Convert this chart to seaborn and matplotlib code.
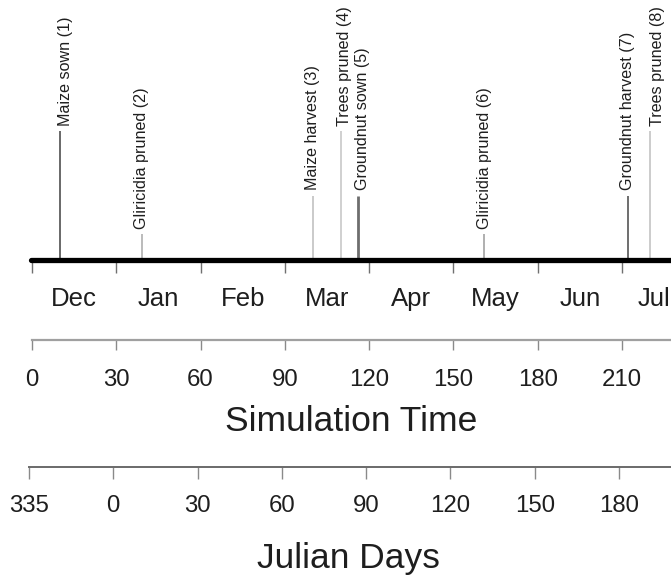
import matplotlib
matplotlib.use("Agg")
import matplotlib.pyplot as plt
import seaborn as sns
import numpy as np

# ---------------- data ----------------
event_labels = ["Maize sown (1)", "Gliricidia pruned (2)", "Maize harvest (3)",
                "Trees pruned (4)", "Groundnut sown (5)", "Gliricidia pruned (6)",
                "Groundnut harvest (7)", "Trees pruned (8)"]
event_days = [10, 39, 100, 110, 116, 161, 212, 220]          # simulation day
event_heights = [1.0, 0.2, 0.5, 1.0, 0.5, 0.2, 0.5, 1.0]     # stem height (relative)
label_shift = [2.0, 0.0, 0.0, 1.2, 1.8, 0.0, 0.0, 2.5]        # label offset (days)

month_labels = ["Dec", "Jan", "Feb", "Mar", "Apr", "May", "Jun", "Jul"]
sim_ticks = [0, 30, 60, 90, 120, 150, 180, 210]
julian_labels = ["335", "0", "30", "60", "90", "120", "150", "180"]

# ---------------- style ----------------
sns.set_theme(style="white")
plt.rcParams["font.family"] = ["Liberation Sans", "DejaVu Sans"]

stem_colors = ["#404040", "#a8a8a8", "#bcbcbc", "#c4c4c4", "#6e6e6e", "#9a9a9a", "#555555", "#c8c8c8"]
stem_widths = [1.1, 1.1, 1.1, 1.1, 2.0, 1.1, 1.2, 1.3]
TXT = "#1e1e1e"

W, H = 671, 578
PX_PER_DAY = (622 - 32) / 210.0
XMIN = -32 / PX_PER_DAY
XMAX = (W - 32) / PX_PER_DAY

fig = plt.figure(figsize=(W / 100, H / 100), dpi=100)


def ax_at(top_px, bottom_px):
    return fig.add_axes([0, 1 - bottom_px / H, 1, (bottom_px - top_px) / H])


# ---------------- event timeline ----------------
base_y = 260
ax = ax_at(0, base_y)
ax.set_xlim(XMIN, XMAX)
ymax = base_y / 129.0
ax.set_ylim(0, ymax)
ax.vlines(event_days, 0, event_heights, colors=stem_colors, linewidths=stem_widths)
gap = 5 / 129.0
for d, h, lab, s in zip(event_days, event_heights, event_labels, label_shift):
    ax.text(d + s, h + gap, lab, rotation=90, ha="center", va="bottom",
            fontsize=11.6, color=TXT)
for sp in ["left", "right", "top"]:
    ax.spines[sp].set_visible(False)
ax.spines["bottom"].set_color("black")
ax.spines["bottom"].set_linewidth(3.8)
ax.spines["bottom"].set_capstyle("round")
ax.spines["bottom"].set_bounds(-0.3, XMAX + 5)
ax.set_yticks([])
ax.set_xticks(sim_ticks)
ax.set_xticklabels([])
month_pos = [t + 15 for t in sim_ticks]
month_pos[-1] = min(month_pos[-1], XMAX - 6)   # keep last label inside the frame
ax.set_xticks(month_pos, minor=True)
ax.set_xticklabels(month_labels, minor=True)
ax.tick_params(axis="x", which="major", direction="out", length=9.5, width=1.0,
               color="#707070", bottom=True)
ax.tick_params(axis="x", which="minor", length=0, pad=19.5, labelsize=18.5,
               labelcolor=TXT, bottom=True)
ax.patch.set_alpha(0)

# ---------------- simulation time axis ----------------
ax2 = ax_at(300, 340)
ax2.set_xlim(XMIN, XMAX)
ax2.set_yticks([])
for sp in ["left", "right", "top"]:
    ax2.spines[sp].set_visible(False)
ax2.spines["bottom"].set_color("#a0a0a0")
ax2.spines["bottom"].set_linewidth(1.6)
ax2.spines["bottom"].set_bounds(0, XMAX + 5)
ax2.set_xticks(sim_ticks)
ax2.set_xticklabels([str(t) for t in sim_ticks])
ax2.tick_params(axis="x", direction="out", length=7.2, width=1.0, color="#8a8a8a",
                pad=13.5, labelsize=17.3, labelcolor=TXT, bottom=True)
ax2.set_xlabel("Simulation Time", fontsize=25.5, color=TXT, labelpad=10.5)
ax2.xaxis.label.set_x(0.523)
ax2.patch.set_alpha(0)

# ---------------- Julian days axis ----------------
ax3 = ax_at(430, 467)
shift = 3 / PX_PER_DAY
ax3.set_xlim(XMIN + shift, XMAX + shift)
ax3.set_yticks([])
for sp in ["left", "right", "top"]:
    ax3.spines[sp].set_visible(False)
ax3.spines["bottom"].set_color("#6a6a6a")
ax3.spines["bottom"].set_linewidth(1.4)
ax3.spines["bottom"].set_bounds(0, XMAX + 5)
ax3.set_xticks(sim_ticks)
ax3.set_xticklabels(julian_labels)
ax3.tick_params(axis="x", direction="out", length=8.6, width=1.0, color="#8a8a8a",
                pad=11.4, labelsize=17.3, labelcolor=TXT, bottom=True)
ax3.set_xlabel("Julian Days", fontsize=25.5, color=TXT, labelpad=18.5)
ax3.xaxis.label.set_x(0.52)
ax3.patch.set_alpha(0)

fig.savefig("out.png", dpi=100, facecolor="white")
